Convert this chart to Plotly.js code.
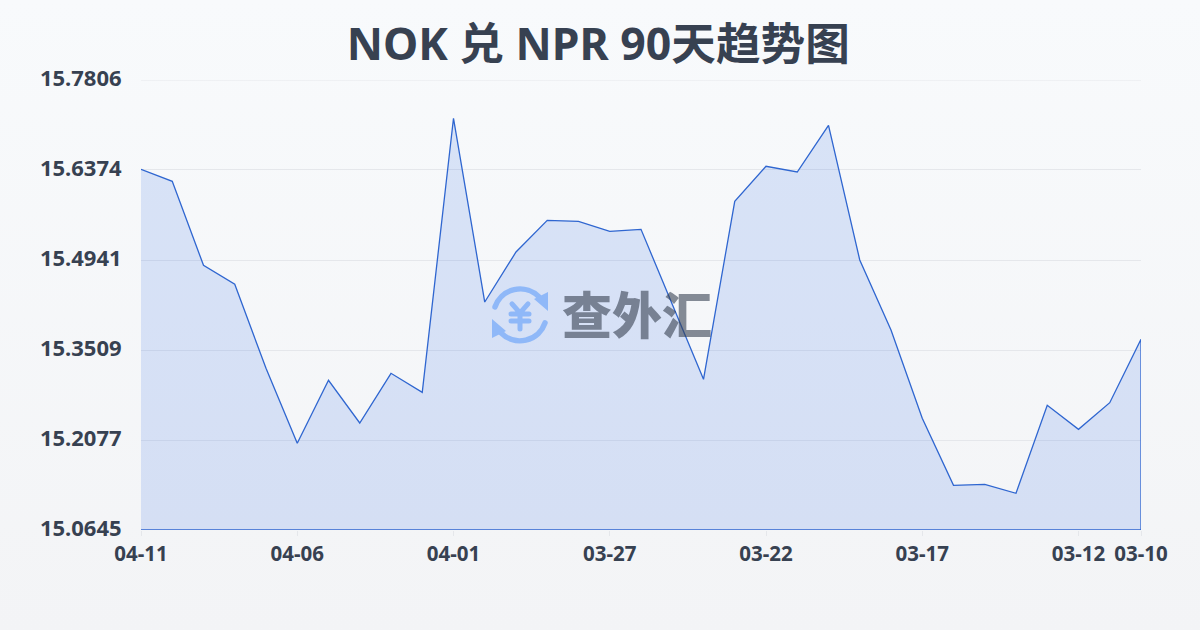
<!DOCTYPE html>
<html>
<head>
<meta charset="utf-8">
<script src="https://cdn.plot.ly/plotly-3.0.1.min.js"></script>
<style>
html,body{margin:0;padding:0;width:1200px;height:630px;overflow:hidden;background:linear-gradient(180deg,#f8fafc 0%,#f3f4f6 100%);}
#chart{width:1200px;height:630px;}
</style>
</head>
<body>
<div id="chart"></div>
<script>
const titleText = 'NOK 兑 NPR 90天趋势图';
const watermarkText = '查外汇';
const rates = [15.6385,15.6194,15.4857,15.4555,15.3218,15.2025,15.3027,15.2348,15.3139,15.2836,15.7197,
  15.4273,15.5069,15.5573,15.5557,15.5398,15.5430,15.4241,15.3043,15.5876,15.6433,15.6342,15.7085,
  15.4942,15.3828,15.2423,15.1356,15.1372,15.1229,15.2629,15.2247,15.2671,15.3680];
const positions = rates.map((_, i) => i);
const xTickPositions = [0,5,10,15,20,25,30,32];
const xTickLabels = ['04-11','04-06','04-01','03-27','03-22','03-17','03-12','03-10'];
const yTickValues = [15.0645,15.2077,15.3509,15.4941,15.6374,15.7806];
const yTickLabels = ['15.0645','15.2077','15.3509','15.4941','15.6374','15.7806'];
const yMin = 15.0645, yMax = 15.7806;

const iconSvg = `<svg xmlns="http://www.w3.org/2000/svg" viewBox="0 0 70 70">
<g fill="none" stroke="#8fb8f8" stroke-width="5.5" stroke-linecap="round">
<path d="M10 27 A26.5 26.5 0 0 1 54 17"/>
<path d="M60 43 A26.5 26.5 0 0 1 16 53"/>
<path d="M27 24 L35 33 L43 24 M35 33 V49 M26 34 H44 M26 41 H44" stroke-width="5"/>
</g>
<path d="M49 19 L63 12 L63 31 Z M21 51 L7 58 L7 39 Z" fill="#8fb8f8"/>
</svg>`;

const trace = {
  x: positions.concat([positions[positions.length-1], positions[0]]),
  y: rates.concat([yMin, yMin]),
  type: 'scatter', mode: 'lines', fill: 'toself',
  fillcolor: 'rgba(37,95,225,0.145)',
  line: {color: '#2f66d0', width: 1.3},
  cliponaxis: false, hoverinfo: 'skip', showlegend: false
};
const axisFont = '"Noto Sans",sans-serif';
const layout = {
  width: 1200, height: 630,
  paper_bgcolor: 'rgba(0,0,0,0)', plot_bgcolor: 'rgba(0,0,0,0)',
  margin: {l: 141, r: 59, t: 80, b: 100, pad: 0},
  title: {text: titleText, x: 0.4985, xanchor: 'center', y: 0.93, yanchor: 'middle',
    font: {family: '"Noto Sans","Noto Sans CJK SC",sans-serif', size: 44.6, color: '#374151', weight: 700}},
  xaxis: {range: [0, 32], tickmode: 'array', tickvals: xTickPositions, ticktext: xTickLabels,
    showgrid: false, zeroline: false, showline: false, ticks: 'outside', ticklen: 5, tickcolor: '#e5e7eb', tickwidth: 1,
    tickangle: 0, tickfont: {family: axisFont, size: 20.5, color: '#374151', weight: 700}},
  yaxis: {range: [yMin, yMax], tickmode: 'array', tickvals: yTickValues, ticktext: yTickLabels,
    showgrid: true, gridcolor: '#e5e7eb', gridwidth: 1, zeroline: false, showline: false,
    ticks: 'outside', ticklen: 14, tickcolor: 'rgba(0,0,0,0)', ticklabelshift: -2,
    tickfont: {family: axisFont, size: 22, color: '#374151', weight: 700}},
  shapes: [{type: 'line', xref: 'paper', yref: 'y', x0: 0, x1: 1, y0: yMax, y1: yMax,
    layer: 'below', line: {color: '#e5e7eb', width: 1}}],
  images: [{source: 'data:image/svg+xml;utf8,' + encodeURIComponent(iconSvg), xref: 'paper', yref: 'paper',
    x: 0.379, y: 0.478, sizex: 0.07, sizey: 0.1556, xanchor: 'center', yanchor: 'middle', layer: 'above'}],
  annotations: [{text: watermarkText, xref: 'paper', yref: 'paper', x: 0.4955, y: 0.484, xanchor: 'center', yanchor: 'middle',
    showarrow: false, font: {family: '"Noto Sans CJK SC",sans-serif', size: 50, color: 'rgba(55,65,81,0.6)', weight: 900}}]
};
Plotly.newPlot('chart', [trace], layout, {displayModeBar: false, staticPlot: true});
</script>
</body>
</html>
